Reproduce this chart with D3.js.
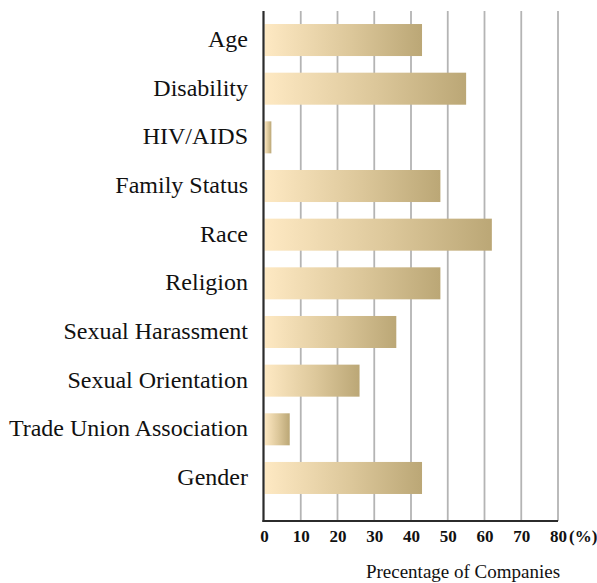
<!DOCTYPE html>
<html>
<head>
<meta charset="utf-8">
<script src="https://cdn.jsdelivr.net/npm/d3@7"></script>
<style>
  html, body { margin: 0; padding: 0; background: #fff; }
  svg { display: block; }
</style>
</head>
<body>
<svg id="chart" width="597" height="583"></svg>
<script>
// Share of companies covering each discrimination ground (%)
const categories = ["Age", "Disability", "HIV/AIDS", "Family Status", "Race", "Religion",
  "Sexual Harassment", "Sexual Orientation", "Trade Union Association", "Gender"];
const values = [43, 55, 2, 48, 62, 48, 36, 26, 7, 43];
const tickValues = [0, 10, 20, 30, 40, 50, 60, 70, 80];
const axisTitle = "Precentage of Companies";
const unitLabel = "(%)";

const svg = d3.select("#chart");
const serif = "'Liberation Serif', 'Times New Roman', serif";

const plot = { left: 264, right: 558, top: 11, bottom: 521 };

const x = d3.scaleLinear().domain([0, 80]).range([plot.left, plot.right]);
const y = d3.scaleBand().domain(categories)
  .range([15.7, 502.3]).paddingInner(0.342).paddingOuter(0.171);

// Bar fill: light cream fading to muted gold across each bar
const defs = svg.append("defs");
const grad = defs.append("linearGradient").attr("id", "barGrad")
  .attr("x1", "0").attr("x2", "1").attr("y1", "0").attr("y2", "0");
grad.append("stop").attr("offset", "0%").attr("stop-color", "#fee9c3");
grad.append("stop").attr("offset", "55%").attr("stop-color", "#dcc79a");
grad.append("stop").attr("offset", "100%").attr("stop-color", "#bba776");

// Vertical grid lines
svg.append("g").selectAll("line")
  .data(tickValues.filter(d => d > 0))
  .join("line")
  .attr("x1", d => x(d)).attr("x2", d => x(d))
  .attr("y1", plot.top).attr("y2", plot.bottom)
  .attr("stroke", "#b4b4b4").attr("stroke-width", 1.8);

// Bars
svg.append("g").selectAll("rect")
  .data(categories)
  .join("rect")
  .attr("x", x(0) + 0.5)
  .attr("y", d => y(d))
  .attr("width", (d, i) => x(values[i]) - x(0) - 0.5)
  .attr("height", y.bandwidth())
  .attr("fill", "url(#barGrad)");

// Axis frame: left and bottom lines
svg.append("line")
  .attr("x1", plot.left - 0.5).attr("x2", plot.left - 0.5)
  .attr("y1", plot.top).attr("y2", plot.bottom + 1)
  .attr("stroke", "#2b2b2b").attr("stroke-width", 2.2);
svg.append("line")
  .attr("x1", plot.left - 1.5).attr("x2", plot.right)
  .attr("y1", plot.bottom).attr("y2", plot.bottom)
  .attr("stroke", "#2b2b2b").attr("stroke-width", 2.2);

// Category labels
svg.append("g").selectAll("text")
  .data(categories)
  .join("text")
  .attr("x", 248)
  .attr("y", d => y(d) + y.bandwidth() / 2)
  .attr("dy", "0.29em")
  .attr("text-anchor", "end")
  .attr("font-family", serif)
  .attr("font-size", 24)
  .attr("fill", "#111")
  .text(d => d);

// Tick labels along the bottom
const xAxis = d3.axisBottom(x).tickValues(tickValues).tickSize(0).tickPadding(0);
const axisG = svg.append("g")
  .attr("transform", `translate(0, 542)`)
  .call(xAxis);
axisG.select(".domain").remove();
axisG.selectAll("text")
  .attr("dy", 0)
  .attr("y", 0)
  .attr("font-family", serif)
  .attr("font-weight", "bold")
  .attr("font-size", 17)
  .attr("fill", "#111");

svg.append("text")
  .attr("x", x(80) + 11)
  .attr("y", 542)
  .attr("font-family", serif)
  .attr("font-weight", "bold")
  .attr("font-size", 17)
  .attr("fill", "#111")
  .text(unitLabel);

svg.append("text")
  .attr("x", 463)
  .attr("y", 577.5)
  .attr("text-anchor", "middle")
  .attr("font-family", serif)
  .attr("font-size", 19)
  .attr("fill", "#111")
  .text(axisTitle);
</script>
</body>
</html>
